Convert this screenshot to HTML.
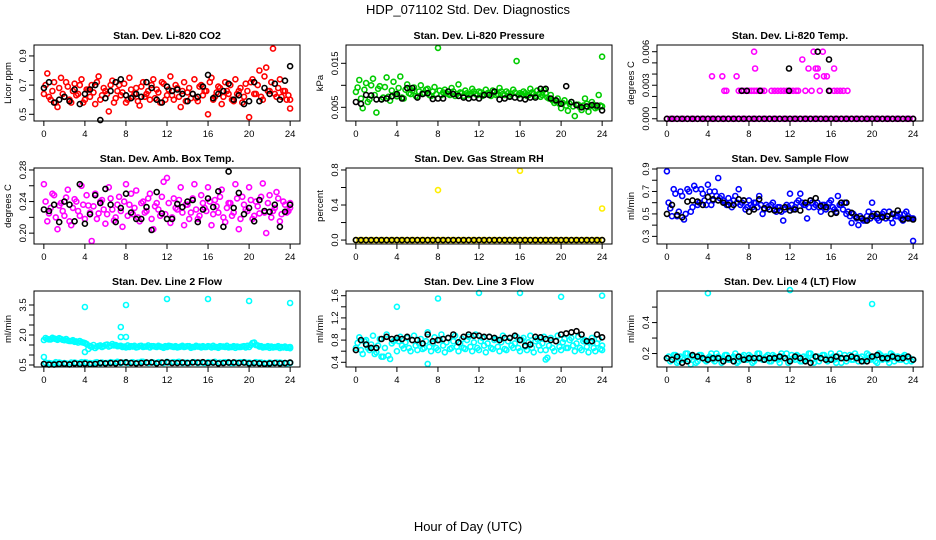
<!DOCTYPE html>
<html><head><meta charset="utf-8"><style>
html,body{margin:0;padding:0;background:#fff;}
svg{display:block;font-family:"Liberation Sans",sans-serif;}
</style></head><body>
<svg id="chart" width="936" height="540" viewBox="0 0 936 540" xmlns="http://www.w3.org/2000/svg">
<text x="468" y="14" font-size="13" text-anchor="middle">HDP_071102  Std. Dev. Diagnostics</text>
<text x="468" y="531" font-size="13" text-anchor="middle">Hour of Day (UTC)</text>
</svg>
<script>
const xTicks = [0,4,8,12,16,20,24];
// Panel 1: CO2
const co2Red = [0.64,0.78,0.60,0.72,0.55,0.75,0.62,0.69,0.58,0.71,0.64,0.74,0.60,0.67,0.70,0.57,0.76,0.63,0.66,0.52,0.73,0.61,0.70,0.65,0.58,0.75,0.62,0.68,0.56,0.72,0.64,0.60,0.74,0.67,0.58,0.71,0.63,0.76,0.60,0.68,0.55,0.72,0.65,0.61,0.74,0.59,0.70,0.66,0.50,0.75,0.62,0.69,0.57,0.72,0.64,0.60,0.74,0.66,0.58,0.71,0.48,0.74,0.64,0.80,0.60,0.82,0.66,0.95,0.62,0.74,0.66,0.60,0.54];
const co2RedB = [0.70,0.62,0.66,0.58,0.68,0.64,0.72,0.60,0.66,0.63,0.70,0.58,0.67,0.62,0.65,0.72,0.60,0.68,0.64,0.70,0.58,0.66,0.63,0.71,0.60,0.67,0.64,0.59,0.69,0.62,0.66,0.70,0.61,0.65,0.72,0.60,0.67,0.63,0.70,0.62,0.66,0.59,0.68,0.64,0.61,0.69,0.63,0.66,0.72,0.60,0.65,0.68,0.62,0.66,0.70,0.59,0.64,0.68,0.62,0.66,0.72,0.64,0.70,0.62,0.76,0.66,0.72,0.64,0.68,0.62,0.66,0.63,0.60];
const co2Black = [0.68,0.72,0.58,0.60,0.62,0.59,0.67,0.57,0.64,0.67,0.70,0.46,0.61,0.66,0.72,0.74,0.63,0.61,0.64,0.62,0.72,0.68,0.60,0.58,0.69,0.66,0.67,0.64,0.59,0.64,0.62,0.69,0.77,0.61,0.64,0.66,0.71,0.60,0.63,0.57,0.59,0.72,0.59,0.68,0.64,0.71,0.60,0.73,0.83];
// Panel 2: Pressure
const presGreen = [0.0085,0.0112,0.0048,0.0105,0.0068,0.0115,0.0038,0.0098,0.0072,0.0118,0.0065,0.0108,0.0075,0.0120,0.0070,0.0102,0.0080,0.0095,0.0074,0.0100,0.0082,0.0092,0.0076,0.0096,0.0185,0.0078,0.0090,0.0080,0.0094,0.0076,0.0102,0.0082,0.0088,0.0078,0.0092,0.0080,0.0086,0.0076,0.0090,0.0082,0.0088,0.0078,0.0094,0.0080,0.0086,0.0076,0.0090,0.0155,0.0082,0.0086,0.0076,0.0092,0.0080,0.0088,0.0074,0.0090,0.0072,0.0078,0.0060,0.0070,0.0048,0.0066,0.0042,0.0062,0.0030,0.0056,0.0044,0.0070,0.0040,0.0062,0.0048,0.0078,0.0165];
const presGreenB = [0.0095,0.0070,0.0090,0.0062,0.0100,0.0078,0.0092,0.0068,0.0096,0.0074,0.0088,0.0080,0.0094,0.0072,0.0090,0.0082,0.0088,0.0076,0.0086,0.0082,0.0090,0.0078,0.0086,0.0080,0.0088,0.0084,0.0082,0.0078,0.0086,0.0080,0.0084,0.0076,0.0082,0.0080,0.0086,0.0078,0.0084,0.0080,0.0082,0.0076,0.0084,0.0080,0.0086,0.0078,0.0082,0.0080,0.0084,0.0078,0.0080,0.0082,0.0078,0.0084,0.0076,0.0080,0.0078,0.0082,0.0070,0.0066,0.0064,0.0058,0.0060,0.0054,0.0058,0.0052,0.0056,0.0050,0.0054,0.0058,0.0052,0.0056,0.0050,0.0054,0.0052];
const presBlack = [0.0062,0.0058,0.0078,0.0077,0.0068,0.0068,0.0070,0.0075,0.0080,0.0070,0.0094,0.0094,0.0072,0.0080,0.0082,0.0069,0.0070,0.0070,0.0086,0.0080,0.0076,0.0072,0.0070,0.0072,0.0070,0.0078,0.0078,0.0086,0.0068,0.0070,0.0074,0.0072,0.0070,0.0068,0.0072,0.0072,0.0092,0.0092,0.0070,0.0066,0.0058,0.0098,0.0062,0.0055,0.0050,0.0052,0.0055,0.0054,0.0043];
// Panel 3: Temp
const tempMagZero = new Array(73).fill(0);
const tempMagHiHours = [4.4,5.4,5.6,5.8,6.8,7.0,7.25,7.5,7.75,8.0,8.25,8.5,8.75,9.0,9.25,9.5,8.5,8.6,10.2,10.5,10.8,11.1,11.4,11.7,12.0,12.3,12.6,12.8,13.2,13.5,13.8,14.1,14.3,14.5,14.6,14.7,14.9,15.2,15.3,15.6,15.9,16.3,16.3,16.6,16.9,17.2,17.6];
const tempMagHiVals = [0.0038,0.0038,0.0025,0.0025,0.0038,0.0025,0.0025,0.0025,0.0025,0.0025,0.0025,0.0025,0.0025,0.0025,0.0025,0.0025,0.0060,0.0045,0.0025,0.0025,0.0025,0.0025,0.0025,0.0025,0.0025,0.0025,0.0025,0.0025,0.0053,0.0025,0.0045,0.0025,0.0060,0.0045,0.0038,0.0045,0.0025,0.0060,0.0038,0.0038,0.0025,0.0045,0.0025,0.0025,0.0025,0.0025,0.0025];
const tempBlackZero = new Array(49).fill(0);
const tempBlackHiHours = [7.3,7.8,9.1,11.9,11.9,14.7,15.8,15.8];
const tempBlackHiVals = [0.0025,0.0025,0.0025,0.0045,0.0025,0.0060,0.0053,0.0025];
// Panel 4: Amb box temp
const ambMag = [0.262,0.215,0.232,0.248,0.205,0.238,0.222,0.255,0.210,0.243,0.228,0.260,0.218,0.235,0.190,0.250,0.225,0.242,0.212,0.258,0.230,0.220,0.246,0.208,0.262,0.236,0.224,0.254,0.215,0.240,0.228,0.250,0.205,0.238,0.222,0.265,0.270,0.213,0.244,0.230,0.258,0.210,0.236,0.226,0.262,0.218,0.248,0.232,0.258,0.210,0.242,0.226,0.255,0.214,0.238,0.222,0.262,0.205,0.246,0.230,0.258,0.218,0.240,0.225,0.263,0.200,0.248,0.228,0.252,0.215,0.240,0.226,0.238];
const ambMagB = [0.240,0.225,0.250,0.220,0.235,0.228,0.245,0.215,0.232,0.240,0.222,0.236,0.248,0.226,0.234,0.218,0.240,0.230,0.224,0.244,0.216,0.236,0.228,0.240,0.222,0.250,0.232,0.220,0.238,0.226,0.244,0.218,0.234,0.230,0.246,0.224,0.238,0.220,0.232,0.242,0.226,0.236,0.218,0.244,0.230,0.222,0.238,0.228,0.240,0.224,0.234,0.246,0.220,0.232,0.238,0.226,0.244,0.218,0.236,0.228,0.242,0.222,0.234,0.246,0.226,0.238,0.220,0.232,0.244,0.224,0.236,0.228,0.232];
const ambBlack = [0.230,0.228,0.236,0.214,0.240,0.236,0.215,0.262,0.212,0.224,0.248,0.238,0.256,0.236,0.214,0.232,0.250,0.226,0.218,0.218,0.233,0.204,0.252,0.225,0.218,0.218,0.237,0.233,0.240,0.242,0.214,0.230,0.244,0.233,0.253,0.208,0.278,0.232,0.251,0.224,0.232,0.215,0.242,0.228,0.227,0.236,0.208,0.227,0.236];
// Panel 5: RH
const rhYellowZero = new Array(73).fill(0);
const rhYellowOutHours = [8,16,24];
const rhYellowOutVals = [0.57,0.79,0.36];
const rhBlackZero = new Array(49).fill(0);
// Panel 6: Sample flow
const sampleBlue = [0.88,0.55,0.72,0.48,0.70,0.45,0.72,0.52,0.75,0.58,0.72,0.62,0.76,0.58,0.70,0.82,0.66,0.60,0.64,0.56,0.66,0.72,0.60,0.54,0.62,0.56,0.60,0.66,0.50,0.58,0.54,0.60,0.52,0.56,0.44,0.58,0.68,0.54,0.60,0.68,0.58,0.46,0.62,0.56,0.60,0.52,0.58,0.56,0.62,0.54,0.66,0.58,0.60,0.52,0.42,0.48,0.40,0.46,0.44,0.52,0.60,0.48,0.44,0.50,0.46,0.52,0.42,0.48,0.50,0.44,0.52,0.46,0.26];
const sampleBlueB = [0.60,0.48,0.68,0.52,0.66,0.50,0.70,0.56,0.72,0.60,0.68,0.58,0.70,0.62,0.66,0.64,0.62,0.58,0.60,0.62,0.60,0.58,0.62,0.56,0.58,0.60,0.56,0.58,0.54,0.56,0.58,0.54,0.56,0.52,0.54,0.56,0.58,0.56,0.62,0.60,0.58,0.56,0.60,0.58,0.56,0.58,0.54,0.60,0.56,0.52,0.58,0.54,0.50,0.48,0.50,0.46,0.48,0.44,0.48,0.46,0.50,0.46,0.48,0.52,0.48,0.46,0.50,0.48,0.46,0.50,0.48,0.46,0.46];
const sampleBlack = [0.50,0.58,0.49,0.47,0.61,0.62,0.61,0.58,0.65,0.63,0.62,0.60,0.58,0.58,0.63,0.62,0.52,0.54,0.63,0.55,0.54,0.53,0.53,0.56,0.53,0.54,0.53,0.60,0.62,0.64,0.57,0.56,0.50,0.51,0.60,0.60,0.51,0.47,0.46,0.44,0.48,0.50,0.47,0.48,0.50,0.53,0.45,0.46,0.45];
// Panel 7: Line 2
const l2CyanUpper = [1.75,1.80,1.78,1.82,1.76,1.80,1.74,1.72,1.70,1.66,1.62,1.64,1.60,1.30,1.40,1.35,1.45,1.40,1.50,1.42,1.55,1.50,1.45,1.40,1.38,1.40,1.42,1.38,1.45,1.40,1.42,1.38,1.44,1.40,1.42,1.36,1.40,1.44,1.40,1.38,1.42,1.40,1.44,1.36,1.40,1.42,1.38,1.40,1.44,1.38,1.40,1.36,1.42,1.40,1.38,1.40,1.36,1.40,1.42,1.38,1.40,1.60,1.50,1.42,1.38,1.40,1.36,1.38,1.40,1.35,1.38,1.36,1.34];
const l2CyanUpperB = [1.85,1.78,1.86,1.80,1.84,1.76,1.80,1.70,1.74,1.68,1.70,1.62,1.55,1.45,1.50,1.42,1.48,1.44,1.52,1.46,1.48,1.44,1.46,1.42,1.48,1.44,1.46,1.40,1.46,1.42,1.48,1.44,1.42,1.46,1.40,1.44,1.46,1.42,1.44,1.40,1.46,1.42,1.44,1.40,1.46,1.42,1.44,1.40,1.42,1.46,1.40,1.44,1.42,1.46,1.40,1.44,1.42,1.40,1.44,1.46,1.50,1.62,1.48,1.44,1.40,1.44,1.42,1.40,1.44,1.40,1.42,1.38,1.40];
const l2CyanLower = [0.55,0.60,0.58,0.62,0.60,0.56,0.62,0.60,0.64,0.60,0.62,0.58,0.60,0.64,0.62,0.60,0.64,0.62,0.60,0.66,0.62,0.64,0.60,0.62,0.66,0.62,0.64,0.60,0.62,0.64,0.60,0.62,0.64,0.62,0.60,0.62,0.64,0.60,0.62,0.64,0.62,0.60,0.62,0.60,0.62,0.60,0.62,0.60,0.62];
const l2CyanLowerB = [0.62,0.58,0.64,0.60,0.58,0.62,0.60,0.64,0.62,0.58,0.64,0.62,0.60,0.62,0.66,0.62,0.60,0.64,0.62,0.66,0.60,0.62,0.64,0.60,0.62,0.64,0.66,0.62,0.60,0.64,0.62,0.60,0.62,0.66,0.62,0.64,0.60,0.62,0.64,0.62,0.60,0.64,0.62,0.58,0.60,0.62,0.60,0.58,0.60];
const l2OutHours = [0,4,4,7.5,7.5,8,8,12,16,20,24];
const l2OutVals = [0.9,3.4,1.15,2.4,1.9,3.5,1.9,3.8,3.8,3.7,3.6];
const l2Black = [0.55,0.52,0.52,0.55,0.56,0.53,0.58,0.55,0.57,0.54,0.55,0.60,0.58,0.60,0.58,0.62,0.63,0.60,0.58,0.60,0.62,0.63,0.58,0.62,0.64,0.60,0.60,0.62,0.60,0.63,0.62,0.64,0.60,0.62,0.58,0.60,0.62,0.63,0.60,0.62,0.58,0.60,0.58,0.56,0.58,0.60,0.58,0.60,0.62];
// Panel 8: Line 3
const l3Cyan = [0.66,0.85,0.55,0.80,0.62,0.88,0.58,0.82,0.50,0.90,0.46,0.78,0.60,0.86,0.65,0.84,0.60,0.88,0.62,0.82,0.66,0.94,0.60,0.85,0.62,0.90,0.58,0.84,0.66,0.88,0.60,0.82,0.64,0.86,0.60,0.90,0.62,0.84,0.58,0.86,0.64,0.82,0.60,0.88,0.62,0.84,0.66,0.86,0.60,0.84,0.62,0.88,0.58,0.82,0.62,0.86,0.48,0.84,0.60,0.88,0.62,0.82,0.66,0.84,0.60,0.86,0.62,0.80,0.58,0.84,0.60,0.82,0.62];
const l3CyanB = [0.75,0.62,0.78,0.66,0.72,0.55,0.70,0.50,0.66,0.52,0.74,0.80,0.78,0.70,0.76,0.66,0.80,0.70,0.74,0.64,0.78,0.68,0.74,0.66,0.80,0.70,0.76,0.64,0.78,0.68,0.74,0.66,0.80,0.68,0.76,0.66,0.78,0.70,0.74,0.66,0.80,0.68,0.76,0.64,0.78,0.70,0.74,0.66,0.80,0.68,0.76,0.66,0.78,0.70,0.74,0.62,0.70,0.66,0.78,0.68,0.76,0.66,0.80,0.70,0.74,0.66,0.78,0.68,0.76,0.66,0.74,0.64,0.70];
const l3OutHours = [4,8,12,16,20,24,7,18.5];
const l3OutVals = [1.4,1.55,1.65,1.65,1.58,1.6,0.37,0.45];
const l3Black = [0.62,0.80,0.72,0.66,0.66,0.82,0.86,0.82,0.84,0.82,0.86,0.80,0.80,0.74,0.90,0.78,0.80,0.82,0.84,0.90,0.76,0.86,0.90,0.88,0.88,0.86,0.86,0.84,0.80,0.84,0.84,0.88,0.80,0.70,0.72,0.86,0.85,0.82,0.80,0.78,0.90,0.92,0.94,0.96,0.90,0.78,0.78,0.90,0.85];
// Panel 9: Line 4
const l4Cyan = [0.17,0.15,0.19,0.14,0.18,0.16,0.20,0.13,0.18,0.15,0.19,0.16,0.17,0.20,0.15,0.18,0.14,0.19,0.16,0.17,0.20,0.15,0.18,0.16,0.19,0.14,0.17,0.20,0.16,0.18,0.15,0.19,0.17,0.14,0.18,0.20,0.16,0.17,0.19,0.15,0.18,0.16,0.20,0.14,0.18,0.17,0.19,0.15,0.20,0.16,0.18,0.14,0.19,0.17,0.16,0.20,0.15,0.18,0.16,0.19,0.17,0.15,0.20,0.16,0.18,0.14,0.19,0.17,0.16,0.18,0.15,0.17,0.16];
const l4CyanB = [0.18,0.16,0.19,0.15,0.17,0.20,0.16,0.18,0.14,0.19,0.17,0.15,0.18,0.16,0.20,0.17,0.15,0.19,0.16,0.18,0.14,0.17,0.19,0.16,0.18,0.15,0.20,0.17,0.16,0.19,0.15,0.18,0.16,0.20,0.17,0.14,0.19,0.16,0.18,0.15,0.17,0.20,0.16,0.18,0.15,0.19,0.17,0.16,0.18,0.14,0.20,0.17,0.15,0.19,0.16,0.18,0.17,0.15,0.20,0.16,0.18,0.14,0.19,0.17,0.16,0.20,0.15,0.18,0.16,0.19,0.17,0.15,0.16];
const l4OutHours = [4,12,20];
const l4OutVals = [0.59,0.61,0.52];
const l4Black = [0.17,0.16,0.18,0.14,0.15,0.19,0.18,0.17,0.16,0.17,0.17,0.15,0.17,0.15,0.18,0.16,0.17,0.17,0.17,0.16,0.17,0.17,0.18,0.17,0.15,0.18,0.17,0.15,0.14,0.18,0.17,0.16,0.16,0.18,0.17,0.17,0.18,0.17,0.15,0.15,0.18,0.19,0.17,0.17,0.18,0.17,0.17,0.18,0.16];

// tick labels per panel
const p1Ticks=[0.5,0.6,0.7,0.8,0.9], p1Labels=["0.5","","0.7","","0.9"];
const p2Ticks=[0.005,0.010,0.015], p2Labels=["0.005","","0.015"];
const p3Ticks=[0,0.001,0.002,0.003,0.004,0.005,0.006], p3Labels=["0.000","","","0.003","","","0.006"];
const p4Ticks=[0.20,0.22,0.24,0.26,0.28], p4Labels=["0.20","","0.24","","0.28"];
const p5Ticks=[0,0.2,0.4,0.6,0.8], p5Labels=["0.0","","0.4","","0.8"];
const p6Ticks=[0.3,0.4,0.5,0.6,0.7,0.8,0.9], p6Labels=["0.3","","0.5","","0.7","","0.9"];
const p7Ticks=[0.5,1.0,1.5,2.0,2.5,3.0,3.5], p7Labels=["0.5","","","2.0","","","3.5"];
const p8Ticks=[0.4,0.6,0.8,1.0,1.2,1.4,1.6], p8Labels=["0.4","","0.8","","1.2","","1.6"];
const p9Ticks=[0.2,0.3,0.4,0.5], p9Labels=["0.2","","0.4",""];

const NS="http://www.w3.org/2000/svg";
const svg=document.getElementById('chart');
function mk(tag,attrs,parent){const e=document.createElementNS(NS,tag);for(const k in attrs)e.setAttribute(k,attrs[k]);(parent||svg).appendChild(e);return e;}
function uniform(n,off){const h=[];for(let i=0;i<n;i++)h.push(Math.min(24,i*24/(n-1)+(off||0)));return h;}

const colL=[34,346,657], rowT=[45,168,291], W=266, H=76;
const OFF='off';
const panels=[
 {name:'co2',title:'Stan. Dev. Li-820 CO2',yl:'Licor ppm',ylim:[0.454,0.975],ticks:p1Ticks,labels:p1Labels,series:[['red',null,co2Red],['red',OFF,co2RedB],['black',null,co2Black]]},
 {name:'pressure',title:'Stan. Dev. Li-820 Pressure',yl:'kPa',ylim:[0.00189,0.01916],ticks:p2Ticks,labels:p2Labels,series:[['#00cc00',null,presGreen],['#00cc00',OFF,presGreenB],['black',null,presBlack]]},
 {name:'temp',title:'Stan. Dev. Li-820 Temp.',yl:'degrees C',ylim:[-0.0002,0.0066],ticks:p3Ticks,labels:p3Labels,series:[['magenta',null,tempMagZero],['magenta',tempMagHiHours,tempMagHiVals],['black',null,tempBlackZero],['black',tempBlackHiHours,tempBlackHiVals]]},
 {name:'amb-box',title:'Stan. Dev. Amb. Box Temp.',yl:'degrees C',ylim:[0.18625,0.2825],ticks:p4Ticks,labels:p4Labels,series:[['magenta',null,ambMag],['magenta',OFF,ambMagB],['black',null,ambBlack]]},
 {name:'rh',title:'Stan. Dev. Gas Stream RH',yl:'percent',ylim:[-0.045,0.8225],ticks:p5Ticks,labels:p5Labels,series:[['#ffee00',null,rhYellowZero],['#ffee00',rhYellowOutHours,rhYellowOutVals],['black',null,rhBlackZero]]},
 {name:'sample-flow',title:'Stan. Dev. Sample Flow',yl:'ml/min',ylim:[0.232,0.909],ticks:p6Ticks,labels:p6Labels,series:[['blue',null,sampleBlue],['blue',OFF,sampleBlueB],['black',null,sampleBlack]]},
 {name:'line2',title:'Stan. Dev. Line 2 Flow',yl:'ml/min',ylim:[0.4,4.2],ticks:p7Ticks,labels:p7Labels,series:[['cyan',null,l2CyanUpper],['cyan',OFF,l2CyanUpperB],['cyan',null,l2CyanLower],['cyan',OFF,l2CyanLowerB],['cyan',l2OutHours,l2OutVals],['black',null,l2Black]]},
 {name:'line3',title:'Stan. Dev. Line 3 Flow',yl:'ml/min',ylim:[0.315,1.685],ticks:p8Ticks,labels:p8Labels,series:[['cyan',null,l3Cyan],['cyan',OFF,l3CyanB],['cyan',l3OutHours,l3OutVals],['black',null,l3Black]]},
 {name:'line4',title:'Stan. Dev. Line 4 (LT) Flow',yl:'ml/min',ylim:[0.113,0.604],ticks:p9Ticks,labels:p9Labels,series:[['cyan',null,l4Cyan],['cyan',OFF,l4CyanB],['cyan',l4OutHours,l4OutVals],['black',null,l4Black]]}
];

panels.forEach((p,idx)=>{
  const L=colL[idx%3], T=rowT[Math.floor(idx/3)];
  const g=mk('g',{});
  
  
  const xs=h=>L+(h+0.96)/25.92*W;
  const ys=v=>T+H-(v-p.ylim[0])/(p.ylim[1]-p.ylim[0])*H;
  const t=mk('text',{x:L+W/2,y:T-6,'font-size':'10.5','font-weight':'bold','text-anchor':'middle'},g);
  t.textContent=p.title;
  
  
  const yt=mk('text',{x:0,y:0,'font-size':'9.5','text-anchor':'middle',transform:`translate(${L-23},${T+H/2}) rotate(-90)`},g);
  yt.textContent=p.yl;
  
  
  const pg=mk('g',{fill:'none','stroke-width':'1.6'},g);
  p.series.forEach(s=>{
    const hrs=(s[1]===OFF)?uniform(s[2].length,1/6):(s[1]||uniform(s[2].length,0));
    s[2].forEach((v,i)=>{
      const c=mk('circle',{cx:xs(hrs[i]).toFixed(1),cy:ys(v).toFixed(1),r:'2.5',stroke:s[0]},pg);
      
      
    });
  });
  const box=mk('rect',{x:L,y:T,width:W,height:H,fill:'none',stroke:'#000','stroke-width':'1'},g);
  
  
  xTicks.forEach(h=>{
    const x=xs(h);
    mk('line',{x1:x,x2:x,y1:T+H,y2:T+H+5,stroke:'#000'},g);
    const tl=mk('text',{x:x,y:T+H+16,'font-size':'9.5','text-anchor':'middle'},g);
    tl.textContent=String(h);
    
    
  });
  mk('line',{x1:xs(0),x2:xs(24),y1:T+H,y2:T+H,stroke:'#000'},g);
  p.ticks.forEach((v,i)=>{
    const y=ys(v);
    mk('line',{x1:L-5,x2:L,y1:y,y2:y,stroke:'#000'},g);
    if(p.labels[i]){
      const tl=mk('text',{x:0,y:0,'font-size':'9.5','text-anchor':'middle',transform:`translate(${L-8},${y}) rotate(-90)`},g);
      tl.textContent=p.labels[i];
      
      
    }
  });
});
</script>
</body></html>
